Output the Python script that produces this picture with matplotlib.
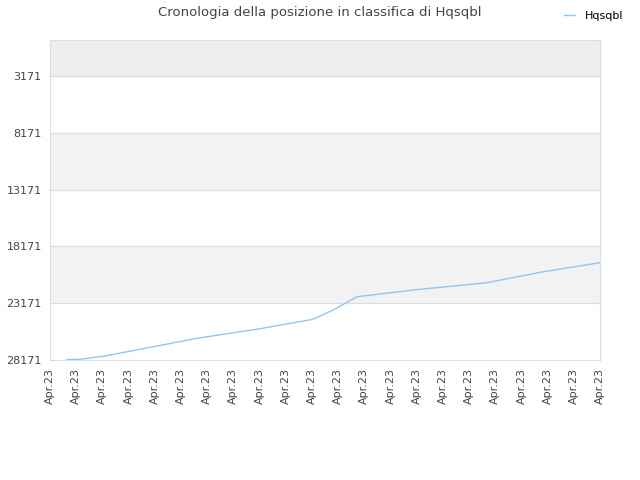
import matplotlib
matplotlib.use('Agg')
import matplotlib.pyplot as plt

# etichette asse x e valori (posizione in classifica)
x_labels = ['Apr.23'] * 22
x_pos = [0.65, 1.15, 2.10, 5.61, 8.02, 10.04, 10.81, 11.72, 14.12, 16.69, 18.82, 21.0]
ranks = [28127, 28110, 27819, 26261, 25416, 24588, 23770, 22600, 21947, 21367, 20407, 19606]
y_ticks = [3171, 8171, 13171, 18171, 23171, 28171]
serie = 'Hqsqbl'

fig = plt.figure(figsize=(6.4, 4.8), dpi=100)
ax = fig.add_axes([50 / 640, 120 / 480, 550 / 640, 320 / 480])

y_top = 1
y_bottom = 28171

# fasce alternate dello sfondo
ax.axhspan(y_top, y_ticks[0], color='#eeeeee', zorder=0)
for i in range(len(y_ticks) - 1):
    if i % 2 == 1:
        ax.axhspan(y_ticks[i], y_ticks[i + 1], color='#f2f2f2', zorder=0)

ax.plot(x_pos, ranks, color='#92c5f2', linewidth=1, label=serie, zorder=3)

ax.set_ylim(y_bottom, y_top)
ax.set_xlim(0, len(x_labels) - 1)
ax.set_yticks(y_ticks)
ax.set_yticklabels([str(v) for v in y_ticks])
ax.set_xticks(range(len(x_labels)))
ax.set_xticklabels(x_labels, rotation=90)
ax.tick_params(axis='both', length=0, labelsize=8, colors='#444444', pad=6)
ax.grid(axis='y', color='#dddddd', linewidth=0.8, zorder=1)
ax.set_axisbelow(True)
for s in ax.spines.values():
    s.set_color('#dddddd')

fig.text(0.5, 0.974, 'Cronologia della posizione in classifica di Hqsqbl',
         ha='center', va='center', fontsize=9.5, color='#444444')
fig.legend(loc='upper right', bbox_to_anchor=(0.99, 0.998), frameon=False,
           fontsize=8, handlelength=1.0, handletextpad=0.9)

plt.savefig('out.png')
